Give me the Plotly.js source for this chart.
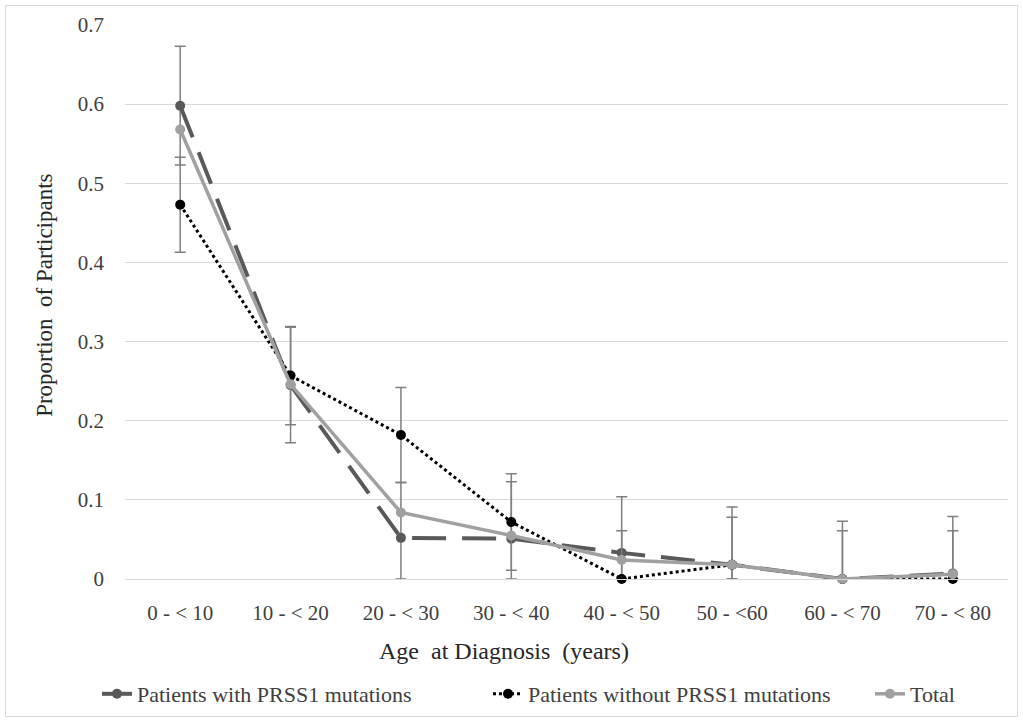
<!DOCTYPE html>
<html><head><meta charset="utf-8">
<script src="https://cdn.plot.ly/plotly-3.0.1.min.js"></script>
<style>
html,body{margin:0;padding:0;background:#fff;}
#chart{position:absolute;left:5px;top:5px;width:1013px;height:712px;border:1px solid #d9d9d9;box-sizing:border-box;}
</style></head>
<body><div id="chart"></div>
<script>
const categories = ['0 - < 10','10 - < 20','20 - < 30','30 - < 40','40 - < 50','50 - <60','60 - < 70','70 - < 80'];
const withPRSS1 = [0.598, 0.245, 0.052, 0.051, 0.033, 0.018, 0, 0.007];
const withoutPRSS1 = [0.473, 0.257, 0.182, 0.072, 0, 0.018, 0, 0];
const total = [0.568, 0.246, 0.084, 0.055, 0.024, 0.018, 0, 0.006];
const withErrPlus = [0.075, 0.073, 0.070, 0.072, 0.071, 0.073, 0.073, 0.072];
const withErrMinus = [0.075, 0.073, 0.052, 0.051, 0.033, 0.018, 0, 0.007];
const withoutErrPlus = [0.060, 0.062, 0.060, 0.061, 0.061, 0.060, 0.061, 0.061];
const withoutErrMinus = [0.060, 0.062, 0.060, 0.061, 0, 0.018, 0, 0];
const yTicks = [0, 0.1, 0.2, 0.3, 0.4, 0.5, 0.6, 0.7];

const serif = '"Liberation Serif", "Times New Roman", serif';
const errStyle = {color:'#7f7f7f', thickness:1.5, width:5.5};

const traces = [
  {x:categories, y:withPRSS1, name:'Patients with PRSS1 mutations', mode:'lines+markers', type:'scatter',
   line:{color:'#595959', width:4, dash:'34px,16px'}, marker:{color:'#595959', size:10}, legendwidth:346,
   error_y:Object.assign({type:'data', symmetric:false, array:withErrPlus, arrayminus:withErrMinus}, errStyle), cliponaxis:false},
  {x:categories, y:withoutPRSS1, name:'Patients without PRSS1 mutations', mode:'lines+markers', type:'scatter',
   line:{color:'#000000', width:3, dash:'dot'}, marker:{color:'#000000', size:10}, legendwidth:337,
   error_y:Object.assign({type:'data', symmetric:false, array:withoutErrPlus, arrayminus:withoutErrMinus}, errStyle), cliponaxis:false},
  {x:categories, y:total, name:'Total', mode:'lines+markers', type:'scatter',
   line:{color:'#a0a0a0', width:3.5}, marker:{color:'#a0a0a0', size:10}, cliponaxis:false}
];

const layout = {
  width:1011, height:710,
  margin:{l:119, r:9, t:19, b:137, autoexpand:false},
  paper_bgcolor:'#ffffff', plot_bgcolor:'#ffffff',
  font:{family:serif, color:'#404040', size:21},
  showlegend:true,
  legend:{orientation:'h', x:-0.0317, xanchor:'left', y:-0.2076, yanchor:'middle',
          font:{family:serif, size:22, color:'#404040'}, tracegroupgap:0},
  xaxis:{type:'category', categoryorder:'array', categoryarray:categories, showgrid:false,
         showline:true, linecolor:'#d9d9d9', linewidth:1, ticks:'', ticklabelstandoff:15,
         tickfont:{family:serif, size:21, color:'#404040'}, zeroline:false, range:[-0.5, 7.5]},
  yaxis:{range:[0,0.7], tickvals:yTicks, ticktext:yTicks.map(v=>String(v)), showgrid:true, gridcolor:'#d9d9d9', gridwidth:1,
         zeroline:false, showline:false, ticks:'', ticklabelstandoff:20,
         tickfont:{family:serif, size:21, color:'#404040'}},
  annotations:[
    {text:'Age\u00a0 at Diagnosis\u00a0 (years)', xref:'paper', yref:'paper', x:0.429, y:-0.13, xanchor:'center', yanchor:'middle',
     showarrow:false, font:{family:serif, size:24, color:'#262626'}},
    {text:'Proportion\u00a0 of Participants', xref:'paper', yref:'paper', x:-0.092, y:0.5125, xanchor:'center', yanchor:'middle',
     textangle:-90, showarrow:false, font:{family:serif, size:23, color:'#262626'}}
  ]
};
Plotly.newPlot('chart', traces, layout, {displayModeBar:false, staticPlot:true});
</script></body></html>
